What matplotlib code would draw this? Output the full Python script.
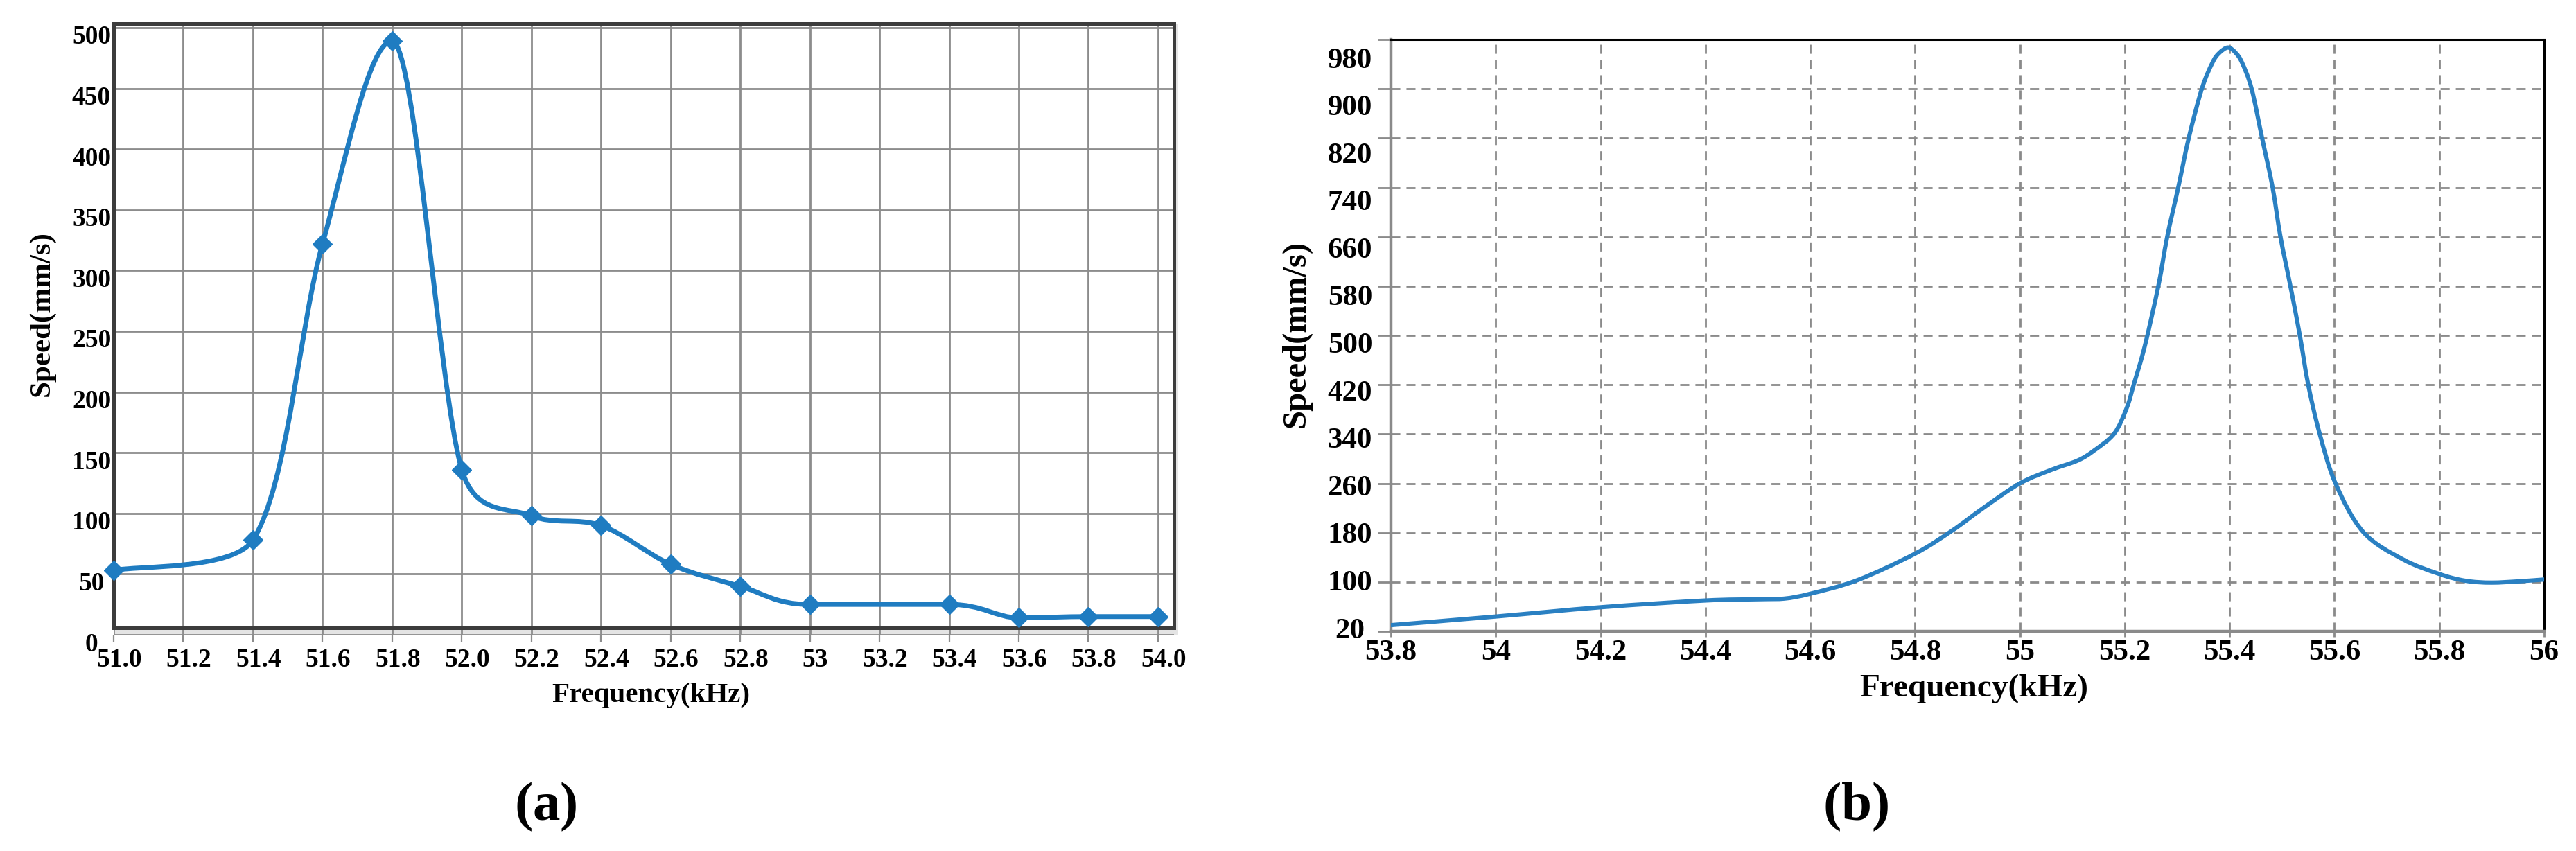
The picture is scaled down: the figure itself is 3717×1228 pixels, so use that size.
import numpy as np
import matplotlib
matplotlib.use('Agg')
import matplotlib.pyplot as plt
from matplotlib.path import Path
from matplotlib.patches import PathPatch, Rectangle
from matplotlib.transforms import ScaledTranslation

# ---------------- data: panel (a) ----------------
freq_a = [51.0, 51.4, 51.6, 51.8, 52.0, 52.2, 52.4, 52.6, 52.8, 53.0, 53.4, 53.6, 53.8, 54.0]
speed_a = [53, 78, 322, 489, 136, 98, 90, 58, 40, 25, 25, 14, 15, 15]
xticks_a = [51.0, 51.2, 51.4, 51.6, 51.8, 52.0, 52.2, 52.4, 52.6, 52.8,
            53.0, 53.2, 53.4, 53.6, 53.8, 54.0]
xticklabels_a = ['51.0', '51.2', '51.4', '51.6', '51.8', '52.0', '52.2', '52.4',
                 '52.6', '52.8', '53', '53.2', '53.4', '53.6', '53.8', '54.0']
yticks_a = [0, 50, 100, 150, 200, 250, 300, 350, 400, 450, 500]

# ---------------- data: panel (b) ----------------
freq_b = [53.80, 54.00, 54.20, 54.40, 54.50, 54.55, 54.60, 54.69, 54.80, 54.87,
          54.93, 55.00, 55.06, 55.11, 55.141, 55.18, 55.204, 55.217, 55.238, 55.264,
          55.281, 55.302, 55.322, 55.347, 55.367, 55.38, 55.397, 55.412, 55.424, 55.442,
          55.462, 55.482, 55.497, 55.516, 55.534, 55.55, 55.572, 55.602, 55.655, 55.73,
          55.80, 55.85, 55.90, 55.95, 56.00]
speed_b = [30, 44, 59, 70, 72, 73, 81, 103, 146, 183,
           220, 260, 282, 297, 313, 341, 383, 420, 482, 580,
           660, 740, 820, 900, 942, 958, 967, 958, 942, 900,
           820, 740, 660, 580, 500, 420, 340, 260, 181, 137,
           113, 102, 99, 101, 104]
xticks_b = [53.8, 54.0, 54.2, 54.4, 54.6, 54.8, 55.0, 55.2, 55.4, 55.6, 55.8, 56.0]
xticklabels_b = ['53.8', '54', '54.2', '54.4', '54.6', '54.8', '55', '55.2',
                 '55.4', '55.6', '55.8', '56']
yticks_b = [20, 100, 180, 260, 340, 420, 500, 580, 660, 740, 820, 900, 980]

# ---------------- style ----------------
plt.rcParams['font.family'] = ['Liberation Serif', 'DejaVu Serif']
plt.rcParams['font.weight'] = 'bold'
plt.rcParams['mathtext.fontset'] = 'custom'
plt.rcParams['mathtext.rm'] = 'Liberation Serif'
plt.rcParams['mathtext.bf'] = 'Liberation Serif:bold'

W, H = 3717, 1228
DPI = 100
fig = plt.figure(figsize=(W / DPI, H / DPI), dpi=DPI)


def px_axes(x0, y_top, x1, y_bot):
    return [x0 / W, (H - y_bot) / H, (x1 - x0) / W, (y_bot - y_top) / H]


def smooth_path(x, y):
    """Smooth Bezier path through the points (no overshoot between points)."""
    pts = np.column_stack([x, y]).astype(float)
    n = len(pts)
    tang = np.zeros_like(pts)
    for i in range(n):
        a = pts[max(i - 1, 0)]
        b = pts[min(i + 1, n - 1)]
        tang[i] = (b - a) / 6.0
        if 0 < i < n - 1:
            if (pts[i, 1] - a[1]) * (pts[i, 1] - b[1]) >= 0:
                tang[i, 1] = 0.0
    verts = [pts[0]]
    codes = [Path.MOVETO]
    for i in range(n - 1):
        p1, p2 = pts[i], pts[i + 1]
        lo, hi = min(p1[1], p2[1]), max(p1[1], p2[1])
        m1, m2 = tang[i].copy(), tang[i + 1].copy()
        c1y = p1[1] + m1[1]
        if m1[1] != 0 and not (lo <= c1y <= hi):
            bound = hi if c1y > hi else lo
            m1 *= (bound - p1[1]) / m1[1]
        c2y = p2[1] - m2[1]
        if m2[1] != 0 and not (lo <= c2y <= hi):
            bound = hi if c2y > hi else lo
            m2 *= (p2[1] - bound) / m2[1]
        verts += [p1 + m1, p2 - m2, p2]
        codes += [Path.CURVE4] * 3
    return Path(verts, codes)


# ================= panel (a) =================
blue_a = '#1f7cc1'
grid_a = '#8c8c8c'
ax = fig.add_axes(px_axes(164, 34, 1694, 916))
ax.set_xlim(51.0, 54.046)
ax.set_ylim(0, 503.4)
for s in ax.spines.values():
    s.set_visible(False)
ax.set_xticks(xticks_a)
ax.set_xticklabels(xticklabels_a)
ax.set_yticks(yticks_a)
ax.set_yticklabels([str(v) for v in yticks_a])
ax.grid(True, color=grid_a, lw=2.0, zorder=1)
ax.set_axisbelow(True)
ax.tick_params(axis='x', direction='out', length=7, width=1.6, color=grid_a,
               pad=7, labelsize=27)
ax.tick_params(axis='y', length=0, pad=23, labelsize=27)
for lab in ax.get_yticklabels():
    lab.set_ha('center')
offy = ScaledTranslation(0, -0.10, fig.dpi_scale_trans)
for t in ax.yaxis.get_major_ticks():
    t.label1.set_transform(t.label1.get_transform() + offy)
offx = ScaledTranslation(0.08, 0, fig.dpi_scale_trans)
for t in ax.xaxis.get_major_ticks():
    t.label1.set_transform(t.label1.get_transform() + offx)

# light shadow band under the frame and dark frame
fb = 10 / 882
ax.add_patch(Rectangle((0, 0), 1.0, fb, transform=ax.transAxes,
                       facecolor='#e4e4e4', edgecolor='none', zorder=0.5, clip_on=False))
ax.add_patch(Rectangle((1.0, 0), 0.004, 1.0, transform=ax.transAxes,
                       facecolor='#e4e4e4', edgecolor='none', zorder=0.5, clip_on=False))
ax.add_patch(Rectangle((0, fb), 1.0, 1.0 - fb, transform=ax.transAxes, fill=False,
                       edgecolor='#3c3c3c', lw=3.6, zorder=2.5, clip_on=False))

ax.add_patch(PathPatch(smooth_path(freq_a, speed_a), transform=ax.transData, fill=False,
                       edgecolor=blue_a, lw=5.0, capstyle='round', joinstyle='round',
                       zorder=3))
ax.plot(freq_a, speed_a, ls='none', marker='D', ms=14, color=blue_a, zorder=4,
        clip_on=False)

fig.text(939 / W, 1 - 1004 / H, 'Frequency(kHz)', ha='center', va='center',
         fontsize=29.5, fontweight='bold')
fig.text(60 / W, 1 - 453 / H, 'Speed(mm/s)', ha='center', va='center',
         rotation=90, fontsize=31, fontweight='bold')

# ================= panel (b) =================
blue_b = '#2a80c2'
grid_b = '#8a8a8a'
bx = fig.add_axes(px_axes(2007, 57, 3671, 911))
bx.set_xlim(53.8, 56.0)
bx.set_ylim(20, 980)
bx.set_xticks(xticks_b)
bx.set_xticklabels(xticklabels_b)
bx.set_yticks(yticks_b)
bx.grid(True, color=grid_b, lw=2.0, ls=(0, (4.7, 3.2)))
bx.set_axisbelow(True)
for side in ('left', 'bottom'):
    bx.spines[side].set_color(grid_b)
    bx.spines[side].set_linewidth(3.2)
for side in ('top', 'right'):
    bx.spines[side].set_color('black')
    bx.spines[side].set_linewidth(2.2)
bx.tick_params(axis='y', direction='out', length=13.7, width=2.0, color=grid_b,
               labelleft=False)
bx.tick_params(axis='x', direction='out', length=6, width=2.0, color=grid_b,
               pad=3, labelsize=31)

bx.add_patch(PathPatch(smooth_path(freq_b, speed_b), transform=bx.transData, fill=False,
                       edgecolor=blue_b, lw=4.4, capstyle='round', joinstyle='round',
                       zorder=3))

# label axis for the y tick labels (placed as in the reference)
bl = bx.twinx()
bl.set_ylim(14.17, 1010.4)
bl.set_yticks(yticks_b)
bl.set_yticklabels([str(v) for v in yticks_b])
bl.yaxis.tick_left()
bl.tick_params(axis='y', length=0, pad=42.5, labelsize=31, labelright=False)
for lab in bl.get_yticklabels():
    lab.set_ha('center')
for s in bl.spines.values():
    s.set_visible(False)

fig.text(2848 / W, 1 - 994 / H, 'Frequency(kHz)', ha='center', va='center',
         fontsize=34, fontweight='bold')
fig.text(1870 / W, 1 - 482 / H, 'Speed(mm/s)', ha='center', va='center',
         rotation=90, fontsize=35, fontweight='bold')

# ================= captions =================
fig.text(787 / W, 1 - 1164 / H, r'$(\mathbf{a})$', ha='center', va='center',
         fontsize=57)
fig.text(2678 / W, 1 - 1164 / H, r'$(\mathbf{b})$', ha='center', va='center',
         fontsize=57)

fig.savefig('out.png', dpi=DPI)
